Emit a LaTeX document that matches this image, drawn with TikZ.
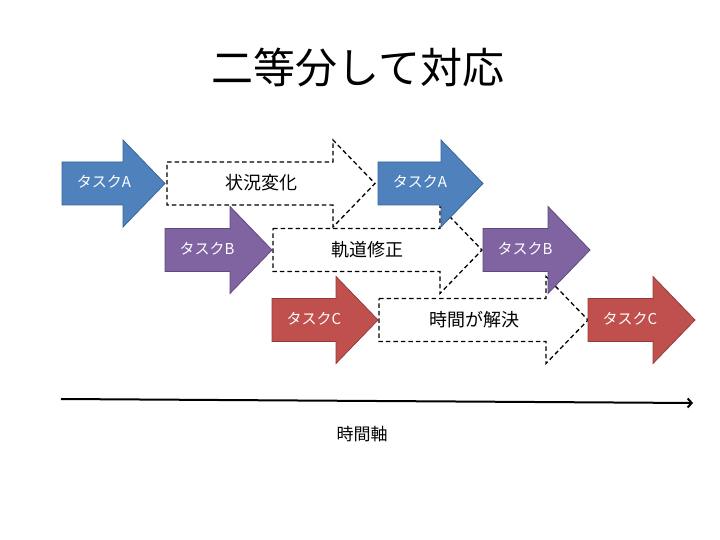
\documentclass[tikz,border=0pt]{standalone}
\usepackage{fontspec}
\setmainfont{Noto Sans CJK JP}
\usetikzlibrary{arrows.meta}
\definecolor{tblue}{HTML}{4F81BD}
\definecolor{tbluedk}{HTML}{3A6595}
\definecolor{tpurple}{HTML}{8064A2}
\definecolor{tpurpledk}{HTML}{5F4A7A}
\definecolor{tred}{HTML}{C0504D}
\definecolor{treddk}{HTML}{943B39}
\newcommand\blockarrow[4]{%
  \path[#4] (#1,#3-21.5) -- (#2-42,#3-21.5) -- (#2-42,#3-43.5) -- (#2,#3)
    -- (#2-42,#3+43.5) -- (#2-42,#3+21.5) -- (#1,#3+21.5) -- cycle;}
\tikzset{
  solidA/.style={fill=tblue,draw=tbluedk,line width=0.8bp,line join=miter},
  solidB/.style={fill=tpurple,draw=tpurpledk,line width=0.8bp,line join=miter},
  solidC/.style={fill=tred,draw=treddk,line width=0.8bp,line join=miter},
  dashbox/.style={fill=white,draw=black,line width=1.3bp,dash pattern=on 4.5bp off 3bp},
  tasklbl/.style={text=white,font=\fontsize{15bp}{18bp}\selectfont,inner sep=0pt},
  dlbl/.style={text=black,font=\fontsize{18bp}{22bp}\selectfont,inner sep=0pt},
  axislbl/.style={text=black,font=\fontsize{17bp}{20bp}\selectfont,inner sep=0pt},
  titlelbl/.style={text=black,font=\fontsize{42bp}{48bp}\selectfont,inner sep=0pt},
  axisline/.style={draw=black,line width=2bp,-{Straight Barb[length=4bp,width=9bp,line width=2bp]}}
}
\begin{document}
\begin{tikzpicture}[x=1bp,y=-1bp]
\useasboundingbox[fill=white] (0,0) rectangle (720,540);
% title
\node[titlelbl] (title) at (358,68) {二等分して対応};
% dashed arrows
\blockarrow{167}{375}{183.5}{dashbox}
\blockarrow{273}{482}{250}{dashbox}
\blockarrow{379}{588}{320}{dashbox}
% solid arrows
\blockarrow{62}{165}{183.5}{solidA}
\blockarrow{165}{272}{250}{solidB}
\blockarrow{272}{378}{320}{solidC}
\blockarrow{378}{483}{183.5}{solidA}
\blockarrow{483}{590}{250}{solidB}
\blockarrow{588}{695}{320}{solidC}
% labels
\node[tasklbl] (a1) at (104,182) {タスクA};
\node[tasklbl] (b1) at (207,249) {タスクB};
\node[tasklbl] (c1) at (314,319) {タスクC};
\node[tasklbl] (a2) at (420,182) {タスクA};
\node[tasklbl] (b2) at (525,249) {タスクB};
\node[tasklbl] (c2) at (630,319) {タスクC};
\node[dlbl] (d1) at (261,183) {状況変化};
\node[dlbl] (d2) at (367,250) {軌道修正};
\node[dlbl] (d3) at (474,320) {時間が解決};
% time axis
\coordinate (ax0) at (61,399);
\coordinate (ax1) at (693,403);
\draw[axisline] (ax0) -- (ax1);
\node[axislbl] (tl) at (362,434) {時間軸};
\end{tikzpicture}
\end{document}
